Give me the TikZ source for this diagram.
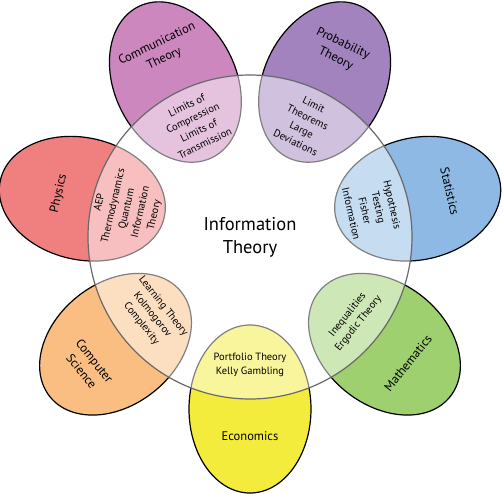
\documentclass[tikz,border=0pt]{standalone}
\usepackage{fontspec}
\setmainfont{PT Sans}
\usetikzlibrary{shapes.geometric}

\definecolor{commcol}{RGB}{204,136,190}
\definecolor{probcol}{RGB}{162,131,190}
\definecolor{statcol}{RGB}{141,185,228}
\definecolor{physcol}{RGB}{240,128,128}
\definecolor{cscol}{RGB}{250,190,130}
\definecolor{mathcol}{RGB}{158,208,112}
\definecolor{econcol}{RGB}{243,236,60}
\definecolor{rimcol}{RGB}{105,105,105}

\begin{document}
\begin{tikzpicture}[x=1pt, y=1pt,
    field/.style={ellipse, draw=black, line width=1.2pt, minimum width=168pt, minimum height=122pt, inner sep=0pt},
    fieldlabel/.style={font=\fontsize{12.5}{16.5}\selectfont, align=center, inner sep=0pt},
    overlap/.style={font=\fontsize{10.5}{14}\selectfont, align=center, inner sep=0pt}]

    \useasboundingbox (-250,-256) rectangle (253,237);

    % Fields
    \node[field, fill=commcol, rotate=115.71] (comm) at (115.71:172) {};
    \node[field, fill=probcol, rotate=64.29]  (prob) at (64.29:172)  {};
    \node[field, fill=statcol, rotate=12.86]  (stat) at (12.86:172)  {};
    \node[field, fill=physcol, rotate=167.14] (phys) at (167.14:172) {};
    \node[field, fill=cscol,   rotate=218.57] (cs)   at (218.57:172) {};
    \node[field, fill=mathcol, rotate=321.43] (math) at (321.43:172) {};
    \node[field, fill=econcol, rotate=270]    (econ) at (270:172)    {};

    % Information theory
    \node[circle, minimum size=324pt, inner sep=0pt, fill=white, fill opacity=0.5,
          draw=rimcol, draw opacity=1, line width=1.2pt, text opacity=1,
          align=center, font=\fontsize{18.5}{23}\selectfont] (info) at (0,0) {Information\\Theory};

    % Labels
    \node[fieldlabel, rotate=25.71]  (commlabel) at (115.71:206) {Communication\\Theory};
    \node[fieldlabel, rotate=-25.71] (problabel) at (64.29:206)  {Probability\\Theory};
    \node[fieldlabel, rotate=-77.14] (statlabel) at (12.86:205)  {Statistics};
    \node[fieldlabel, rotate=77.14]  (physlabel) at (167.14:196) {Physics};
    \node[fieldlabel, rotate=-51.43] (cslabel)   at (218.57:207) {Computer\\Science};
    \node[fieldlabel, rotate=51.43]  (mathlabel) at (321.43:202) {Mathematics};
    \node[fieldlabel]                (econlabel) at (270:199)    {Economics};

    \node[overlap, rotate=25.71]  (commover) at (115.71:125) {Limits of\\Compression\\Limits of\\Transmission};
    \node[overlap, rotate=-25.71] (probover) at (64.29:126)  {Limit\\Theorems\\Large\\Deviations};
    \node[overlap, rotate=-77.14] (statover) at (12.86:125)  {Hypothesis\\Testing\\Fisher\\Information};
    \node[overlap, rotate=77.14]  (physover) at (167.14:126) {AEP\\Thermodynamics\\Quantum\\Information\\Theory};
    \node[overlap, rotate=-51.43] (csover)   at (218.57:125) {Learning Theory\\Kolmogorov\\Complexity};
    \node[overlap, rotate=51.43]  (mathover) at (321.43:132) {Inequalities\\Ergodic Theory};
    \node[overlap]                (econover) at (270:128)    {Portfolio Theory\\Kelly Gambling};
\end{tikzpicture}
\end{document}
